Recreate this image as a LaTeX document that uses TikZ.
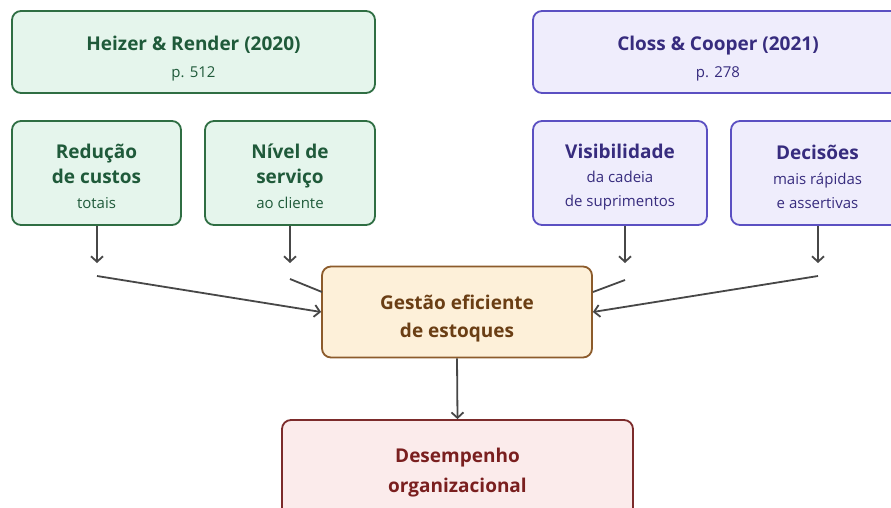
\documentclass[tikz,border=0pt]{standalone}
\usepackage{fontspec}
\setmainfont{Open Sans}
\usetikzlibrary{arrows.meta}
\definecolor{gfill}{HTML}{E5F5EC}
\definecolor{gdraw}{HTML}{2F6E43}
\definecolor{gtext}{HTML}{1F5A3A}
\definecolor{pfill}{HTML}{EFEDFC}
\definecolor{pdraw}{HTML}{5B50C2}
\definecolor{ptext}{HTML}{372C7E}
\definecolor{ofill}{HTML}{FDF0D9}
\definecolor{odraw}{HTML}{8C5B2B}
\definecolor{otext}{HTML}{6A3E14}
\definecolor{rfill}{HTML}{FBEBEB}
\definecolor{rdraw}{HTML}{7C2B2B}
\definecolor{rtext}{HTML}{7A1F1F}
\definecolor{arrc}{HTML}{474747}
\newcommand{\hd}[1]{{\fontsize{19}{19}\selectfont\bfseries #1}}
\newcommand{\sm}[1]{{\fontsize{15}{15}\selectfont #1}}
\tikzset{
  box/.style={draw, rounded corners=9pt, line width=1.8pt, inner sep=0pt},
  gbox/.style={box, fill=gfill, draw=gdraw},
  pbox/.style={box, fill=pfill, draw=pdraw},
  obox/.style={box, fill=ofill, draw=odraw},
  rbox/.style={box, fill=rfill, draw=rdraw},
  txt/.style={inner sep=0pt, align=center, font=\fontsize{15}{#1}\selectfont},
  arr/.style={draw=arrc, line width=1.8pt, -{Straight Barb[length=5.5pt,width=12pt,line width=1.8pt]}},
  ln/.style={draw=arrc, line width=1.8pt}
}
\begin{document}
\begin{tikzpicture}[x=1pt,y=-1pt]
\useasboundingbox (0,0) rectangle (891,508);
\clip (0,0) rectangle (891,508);
\fill[white] (0,0) rectangle (891,508);
% top boxes
\node[gbox, minimum width=363pt, minimum height=82pt] (hr) at (193.5,52) {};
\node[txt=27, text=gtext] (hrT) at ([yshift=-7pt]hr.center) {\hd{Heizer \& Render (2020)}\\\sm{p. 512}};
\node[pbox, minimum width=370pt, minimum height=82pt] (cc) at (718,52) {};
\node[txt=27, text=ptext] (ccT) at ([yshift=-7pt]cc.center) {\hd{Closs \& Cooper (2021)}\\\sm{p. 278}};
% second row
\node[gbox, minimum width=169pt, minimum height=104pt] (red) at (96.5,173) {};
\node[txt=25, text=gtext] (redT) at ([yshift=-3.5pt]red.center) {\hd{Redução}\\\hd{de custos}\\\sm{totais}};
\node[gbox, minimum width=170pt, minimum height=104pt] (niv) at (290,173) {};
\node[txt=25, text=gtext] (nivT) at ([yshift=-3.5pt]niv.center) {\hd{Nível de}\\\hd{serviço}\\\sm{ao cliente}};
\node[pbox, minimum width=174pt, minimum height=104pt] (vis) at (620,173) {};
\node[txt=24, text=ptext] (visT) at ([yshift=-4.5pt]vis.center) {\hd{Visibilidade}\\\sm{da cadeia}\\\sm{de suprimentos}};
\node[pbox, minimum width=173pt, minimum height=104pt] (dec) at (817.5,173) {};
\node[txt=24.5, text=ptext] (decT) at ([yshift=-4pt]dec.center) {\hd{Decisões}\\\sm{mais rápidas}\\\sm{e assertivas}};
% center
\node[obox, minimum width=270pt, minimum height=91pt] (ges) at (457,312) {};
\node[txt=28, text=otext] (gesT) at ([yshift=-6.5pt]ges.center) {\hd{Gestão eficiente}\\\hd{de estoques}};
\node[rbox, minimum width=351pt, minimum height=98pt] (des) at (457.5,469) {};
\node[txt=30, text=rtext] (desT) at ([yshift=-3.5pt]des.center) {\hd{Desempenho}\\\hd{organizacional}};
% coordinates
\coordinate (a1) at (97,263);
\coordinate (a2) at (290,263);
\coordinate (a3) at (625,263);
\coordinate (a4) at (818,263);
\coordinate (l1) at (97,276);
\coordinate (l2) at (290,279);
\coordinate (l3) at (625,280);
\coordinate (l4) at (818,276);
\coordinate (e2) at (322,292);
\coordinate (e3) at (593,292);
% arrows
\draw[arr] (red.south -| a1) -- (a1);
\draw[arr] (niv.south -| a2) -- (a2);
\draw[arr] (vis.south -| a3) -- (a3);
\draw[arr] (dec.south -| a4) -- (a4);
\draw[arr] (l1) -- (ges.west);
\draw[ln] (l2) -- (e2);
\draw[ln] (l3) -- (e3);
\draw[arr] (l4) -- (ges.east);
\draw[arr] (ges.south) -- (des.north);
\end{tikzpicture}
\end{document}
